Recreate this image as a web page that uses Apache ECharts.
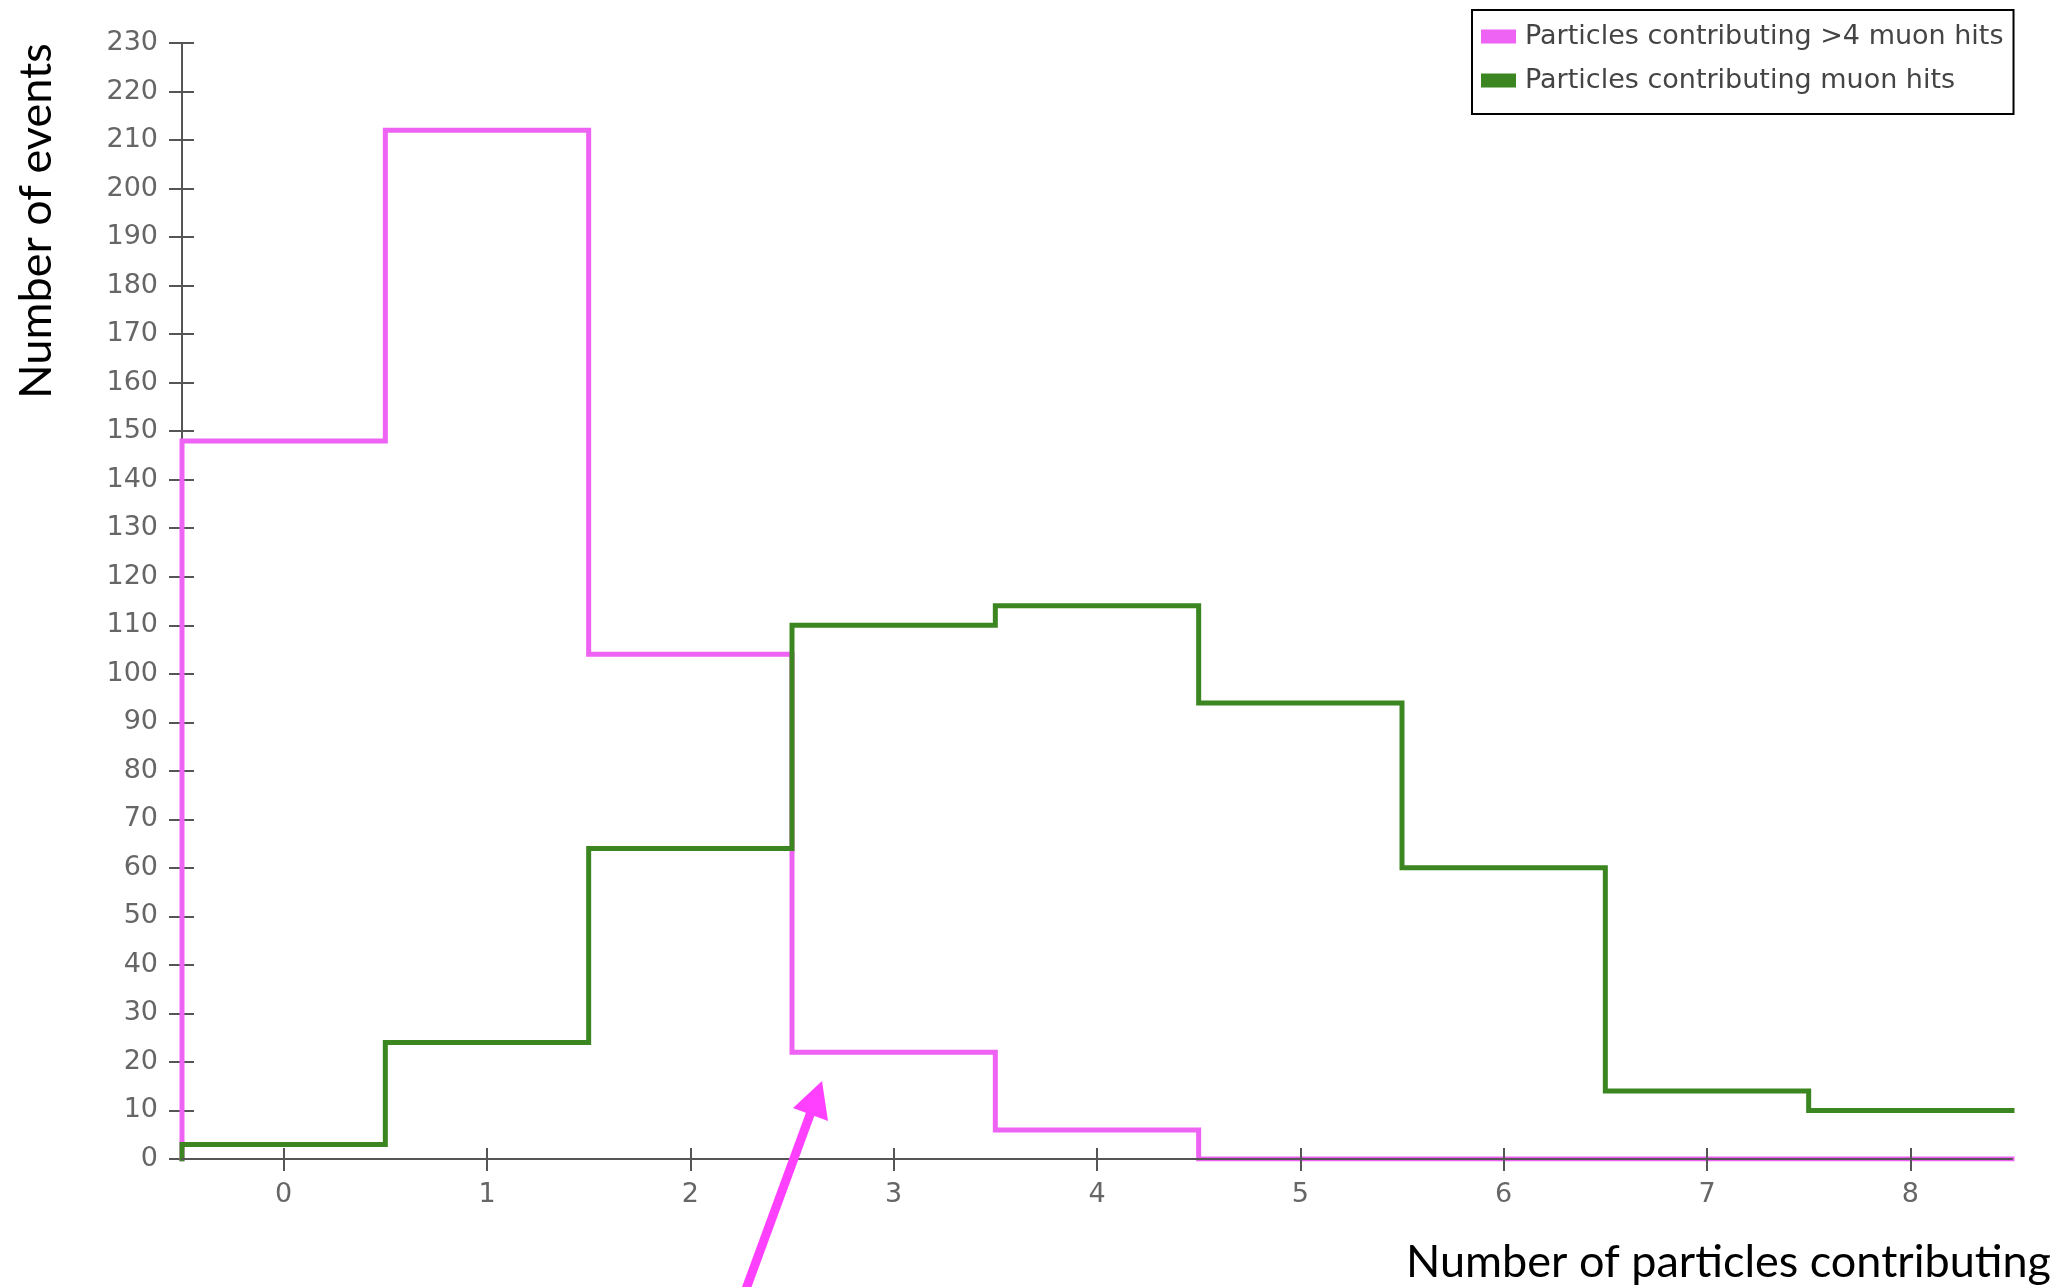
<!DOCTYPE html>
<html>
<head>
<meta charset="utf-8">
<title>Number of particles contributing muon hits</title>
<script src="https://cdn.jsdelivr.net/npm/echarts@6/dist/echarts.min.js"></script>
<style>
  html, body { margin: 0; padding: 0; background: #fff; }
  #chart { width: 2061px; height: 1287px; }
</style>
</head>
<body>
<div id="chart"></div>
<script>
// Histogram bins: number of particles per event (bin width 1)
const binCenters = [0, 1, 2, 3, 4, 5, 6, 7, 8];
// Events per bin, particles contributing more than 4 muon hits
const countsMoreThan4Hits = [148, 212, 104, 22, 6, 0, 0, 0, 0];
// Events per bin, particles contributing any muon hits
const countsAnyHits = [3, 24, 64, 110, 114, 94, 60, 14, 10];
// Axis tick values
const xTickValues = [0, 1, 2, 3, 4, 5, 6, 7, 8];
const yMin = 0, yMax = 230, yStep = 10;

const seriesNames = ['Particles contributing >4 muon hits', 'Particles contributing muon hits'];
const colorMagenta = '#ee62f4';
const colorGreen = '#3b8620';
const axisColor = '#555';
const tickFont = 'DejaVu Sans';

// Step outline of a histogram: rise from zero at the left edge,
// then one horizontal run per bin (step 'end' draws the run, then the jump).
function histogramOutline(counts) {
  const half = 0.5;
  const pts = [[binCenters[0] - half, 0]];
  counts.forEach((c, i) => pts.push([binCenters[i] - half, c]));
  pts.push([binCenters[binCenters.length - 1] + half, counts[counts.length - 1]]);
  return pts;
}

const chart = echarts.init(document.getElementById('chart'), null, { renderer: 'canvas' });

const xCommon = {
  type: 'value',
  min: binCenters[0] - 0.5,
  max: binCenters[binCenters.length - 1] + 0.5,
  splitLine: { show: false }
};
const yCommon = {
  type: 'value',
  min: yMin,
  max: yMax,
  interval: yStep,
  splitLine: { show: false }
};

chart.setOption({
  animation: false,
  backgroundColor: '#fff',
  grid: { left: 182, right: 49, top: 43, bottom: 128, containLabel: false },
  legend: {
    data: seriesNames,
    orient: 'vertical',
    left: 1472,
    top: 10,
    padding: [13, 10, 20, 9],
    itemGap: 17,
    itemWidth: 35,
    itemHeight: 14,
    icon: 'rect',
    backgroundColor: '#fff',
    borderColor: '#000',
    borderWidth: 2,
    borderRadius: 0,
    selectedMode: false,
    textStyle: { fontFamily: tickFont, fontSize: 27, color: '#444', padding: [0, 0, 0, 4] }
  },
  xAxis: [
    Object.assign({}, xCommon, {
      position: 'bottom',
      z: 5,
      axisLine: { show: true, onZero: false, lineStyle: { color: axisColor, width: 2 } },
      axisTick: { show: true, inside: false, length: 12, customValues: xTickValues,
                  lineStyle: { color: axisColor, width: 2 } },
      axisLabel: { show: true, customValues: xTickValues, margin: 22,
                   fontFamily: tickFont, fontSize: 27, color: '#666' }
    }),
    Object.assign({}, xCommon, {
      position: 'bottom',
      z: 5,
      axisLine: { show: false, onZero: false },
      axisTick: { show: true, inside: true, length: 11, customValues: xTickValues,
                  lineStyle: { color: axisColor, width: 2 } },
      axisLabel: { show: false }
    })
  ],
  yAxis: [
    Object.assign({}, yCommon, {
      position: 'left',
      z: 0,
      axisLine: { show: true, onZero: false, lineStyle: { color: axisColor, width: 2 } },
      axisTick: { show: true, inside: false, length: 13, lineStyle: { color: axisColor, width: 2 } },
      axisLabel: { show: true, margin: 24, fontFamily: tickFont, fontSize: 27, color: '#666' }
    }),
    Object.assign({}, yCommon, {
      position: 'left',
      z: 0,
      axisLine: { show: false, onZero: false },
      axisTick: { show: true, inside: true, length: 12, lineStyle: { color: axisColor, width: 2 } },
      axisLabel: { show: false }
    })
  ],
  series: [
    {
      name: seriesNames[0],
      type: 'line',
      step: 'end',
      xAxisIndex: 0,
      yAxisIndex: 0,
      z: 2,
      showSymbol: false,
      symbol: 'none',
      color: colorMagenta,
      lineStyle: { color: colorMagenta, width: 5, join: 'miter', cap: 'square' },
      data: histogramOutline(countsMoreThan4Hits)
    },
    {
      name: seriesNames[1],
      type: 'line',
      step: 'end',
      xAxisIndex: 0,
      yAxisIndex: 0,
      z: 3,
      showSymbol: false,
      symbol: 'none',
      color: colorGreen,
      lineStyle: { color: colorGreen, width: 5, join: 'miter', cap: 'square' },
      data: histogramOutline(countsAnyHits)
    }
  ],
  graphic: [
    {
      type: 'text',
      x: 36,
      y: 221,
      rotation: Math.PI / 2,
      style: {
        text: 'Number of events',
        font: '45px Lato',
        fill: '#000',
        align: 'center',
        verticalAlign: 'middle'
      }
    },
    {
      type: 'text',
      x: 2051,
      y: 1262,
      style: {
        text: 'Number of particles contributing',
        font: '45px Lato',
        fill: '#000',
        align: 'right',
        verticalAlign: 'middle'
      }
    },
    // Annotation arrow pointing at the >4-hit histogram near x = 2.6
    {
      type: 'line',
      z: 10,
      shape: { x1: 742, y1: 1300, x2: 811, y2: 1112 },
      style: { stroke: '#ff40ff', lineWidth: 9 }
    },
    {
      type: 'polygon',
      z: 10,
      shape: { points: [[822, 1081], [793, 1108], [828, 1121]] },
      style: { fill: '#ff40ff' }
    }
  ]
});
</script>
</body>
</html>
